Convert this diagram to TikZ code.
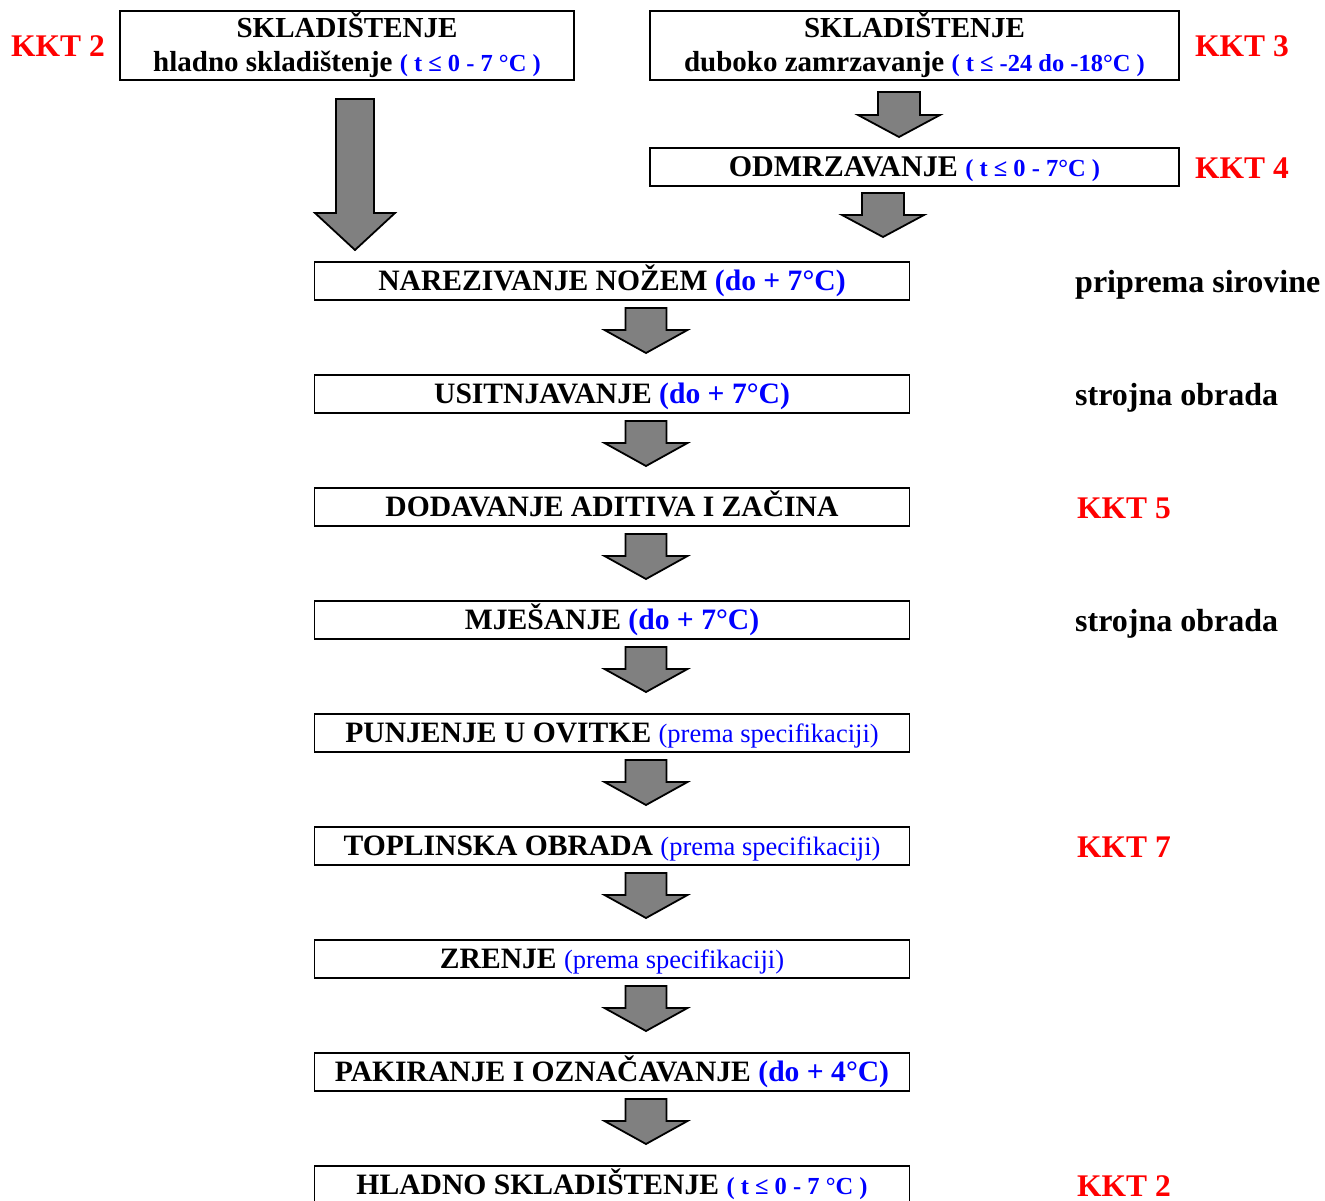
\documentclass[tikz,border=0pt]{standalone}
\usepackage{fontspec}
\setmainfont{Liberation Serif}
\definecolor{kred}{RGB}{255,0,0}
\definecolor{kblue}{RGB}{0,0,255}
\definecolor{agray}{RGB}{128,128,128}
\newcommand\mainfnt{\bfseries\fontsize{29.6}{31}\selectfont}
\newcommand\specfnt{\mdseries\fontsize{26.5}{28}\selectfont\color{kblue}}
\newcommand\smallblue{\bfseries\fontsize{24.5}{26}\selectfont\color{kblue}}
\newcommand\blockarrow[6]{%
  \draw[arr] ({#1-#5},#2) -- ({#1+#5},#2) -- ({#1+#5},#3) -- ({#1+#6},#3) -- (#1,#4) -- ({#1-#6},#3) -- ({#1-#5},#3) -- cycle;}
\begin{document}
\begin{tikzpicture}[x=1pt,y=-1pt,
  box/.style={draw, line width=1.8pt, minimum width=595pt, minimum height=38pt, inner sep=0pt,
    text height=19.5pt, text depth=0pt, font=\mainfnt},
  tbox/.style={draw, line width=1.8pt, inner sep=0pt, align=center,
    font=\bfseries\fontsize{29}{34}\selectfont},
  kkt/.style={inner sep=0pt, text height=20.5pt, text depth=0pt, text=kred,
    font=\bfseries\fontsize{31.5}{33}\selectfont},
  side/.style={inner sep=0pt, text height=21pt, text depth=0pt, anchor=west,
    font=\bfseries\fontsize{32}{34}\selectfont},
  arr/.style={draw=black, fill=agray, line width=1.8pt, line join=miter}]
\useasboundingbox (0,0) rectangle (1325,1201);
\clip (0,0) rectangle (1325,1201);

% top boxes
\node[tbox, minimum width=454pt, minimum height=69pt] (s2) at (347,45.5)
  {SKLADIŠTENJE\\hladno skladištenje {\smallblue( t ≤ 0 - 7 °C )}};
\node[tbox, minimum width=529pt, minimum height=69pt] (s3) at (914.5,45.5)
  {SKLADIŠTENJE\\duboko zamrzavanje {\smallblue( t ≤ -24 do -18°C )}};
\node[box, minimum width=529pt, font=\bfseries\fontsize{30}{32}\selectfont] (odm) at (914.5,167)
  {ODMRZAVANJE {\smallblue( t ≤ 0 - 7°C )}};

% main column
\node[box] (n1) at (612,281) {NAREZIVANJE NOŽEM {\color{kblue}(do + 7°C)}};
\node[box] (n2) at (612,394) {USITNJAVANJE {\color{kblue}(do + 7°C)}};
\node[box] (n3) at (612,507) {DODAVANJE ADITIVA I ZAČINA};
\node[box] (n4) at (612,620) {MJEŠANJE {\color{kblue}(do + 7°C)}};
\node[box] (n5) at (612,733) {PUNJENJE U OVITKE {\specfnt(prema specifikaciji)}};
\node[box] (n6) at (612,846) {TOPLINSKA OBRADA {\specfnt(prema specifikaciji)}};
\node[box] (n7) at (612,959) {ZRENJE {\specfnt(prema specifikaciji)}};
\node[box] (n8) at (612,1072) {PAKIRANJE I OZNAČAVANJE {\color{kblue}(do + 4°C)}};
\node[box] (n9) at (612,1185) {HLADNO SKLADIŠTENJE {\smallblue( t ≤ 0 - 7 °C )}};

% labels
\node[kkt, anchor=west] (k2a) at (11,46) {KKT 2};
\node[kkt, anchor=west] (k3) at (1195,46) {KKT 3};
\node[kkt, anchor=west] (k4) at (1195,168) {KKT 4};
\node[side] (l1) at (1075,282) {priprema sirovine};
\node[side] (l2) at (1075,395) {strojna obrada};
\node[kkt, anchor=west] (k5) at (1077,508) {KKT 5};
\node[side] (l4) at (1075,621) {strojna obrada};
\node[kkt, anchor=west] (k7) at (1077,847) {KKT 7};
\node[kkt, anchor=west] (k2b) at (1077,1186) {KKT 2};

% arrows
\blockarrow{355}{99}{213}{250}{19}{40}
\blockarrow{899}{92}{115}{137}{21}{41}
\blockarrow{883}{193}{215}{237}{21}{41}
\foreach \t in {308,421,534,647,760,873,986,1099}{
  \blockarrow{646}{\t}{\t+22}{\t+45}{20.5}{41.5}
}
\end{tikzpicture}
\end{document}
